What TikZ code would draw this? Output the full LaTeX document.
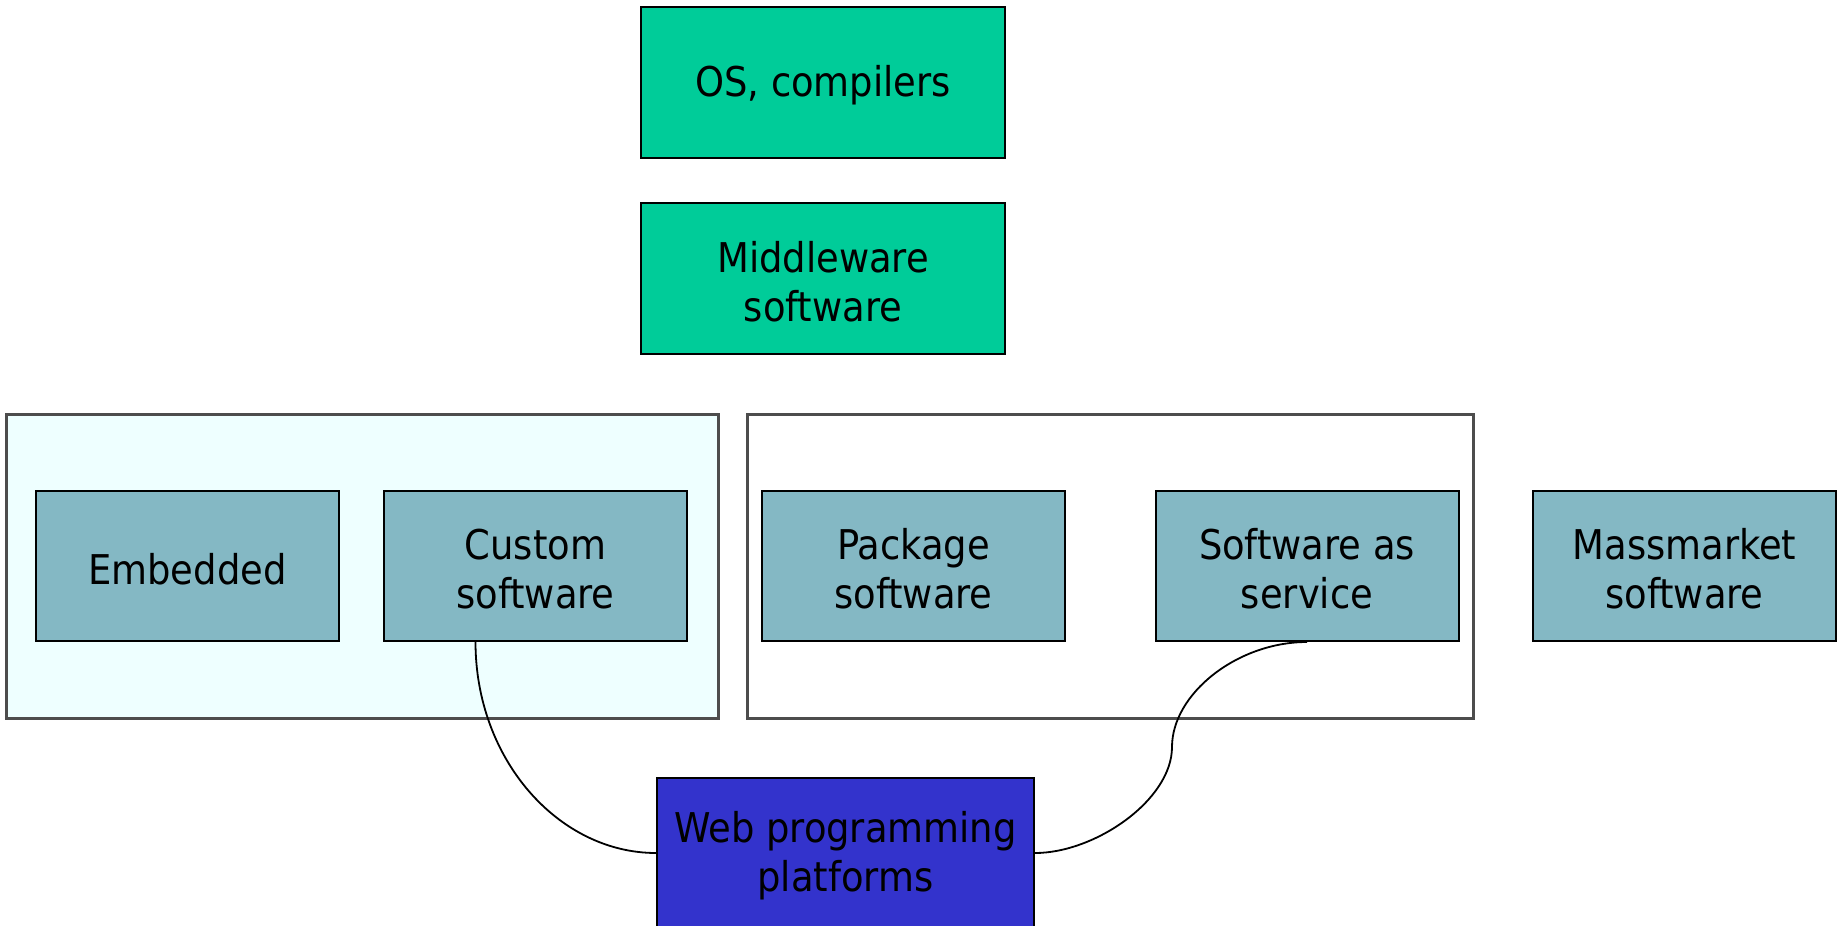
\documentclass[tikz,border=0pt]{standalone}
\usepackage{fontspec}
\setmainfont{DejaVu Sans Condensed}
\definecolor{layergreen}{HTML}{00CC99}
\definecolor{kindteal}{HTML}{84B8C4}
\definecolor{groupfill}{HTML}{EEFFFF}
\definecolor{groupline}{HTML}{4D4D4D}
\definecolor{webblue}{HTML}{3333CC}
\begin{document}
\begin{tikzpicture}[x=1pt,y=-1pt,
  every node/.style={inner sep=0pt},
  txt/.style={font=\fontsize{41}{49}\selectfont, align=center},
  box/.style={draw=black, line width=2pt, minimum width=303pt, minimum height=150pt},
  layer/.style={box, fill=layergreen, minimum width=364pt, minimum height=151pt},
  kind/.style={box, fill=kindteal},
  web/.style={box, fill=webblue, minimum width=377pt},
  group/.style={draw=groupline, line width=3pt},
  link/.style={draw=black, line width=1.8pt}]
\useasboundingbox (0,0) rectangle (1845,926);

% grouping frames
\node[group, fill=groupfill, minimum width=712pt, minimum height=304pt] (grpA) at (362,566) {};
\node[group, fill=white, minimum width=726pt, minimum height=304pt] (grpB) at (1110,566) {};

% platform layers
\node[layer] (os) at (823,82.5) {};
\node[layer] (mid) at (823,278.5) {};

% kinds of software
\node[kind] (emb) at (187.5,566) {};
\node[kind] (cust) at (535.5,566) {};
\node[kind] (pkg) at (913.5,566) {};
\node[kind] (saas) at (1307,566) {};
\node[kind] (mass) at (1684.5,566) {};

% web platforms
\node[web] (webp) at (845.5,853) {};

% box captions, set slightly below the box centres
\node[txt] (osT) at ([yshift=-3pt]os.center) {OS, compilers};
\node[txt] (midT) at ([yshift=-3pt]mid.center) {Middleware\\software};
\node[txt] (embT) at ([yshift=-3pt]emb.center) {Embedded};
\node[txt] (custT) at ([yshift=-3pt]cust.center) {Custom\\software};
\node[txt] (pkgT) at ([yshift=-3pt]pkg.center) {Package\\software};
\node[txt] (saasT) at ([yshift=-3pt]saas.center) {Software as\\service};
\node[txt] (massT) at ([yshift=-3pt]mass.center) {Massmarket\\software};
\node[txt] (webT) at ([yshift=-3pt]webp.center) {Web programming\\platforms};

% connectors
\coordinate (custFoot) at ([xshift=-60pt]cust.south);
\draw[link] (custFoot) .. controls ++(0,118) and ++(-97,0) .. (webp.west);
\coordinate (bend) at (1172,747);
\draw[link] (saas.south) .. controls ++(-70,0) and ++(0,-53) .. (bend)
  .. controls ++(0,53) and ++(60,0) .. (webp.east);
\end{tikzpicture}
\end{document}
